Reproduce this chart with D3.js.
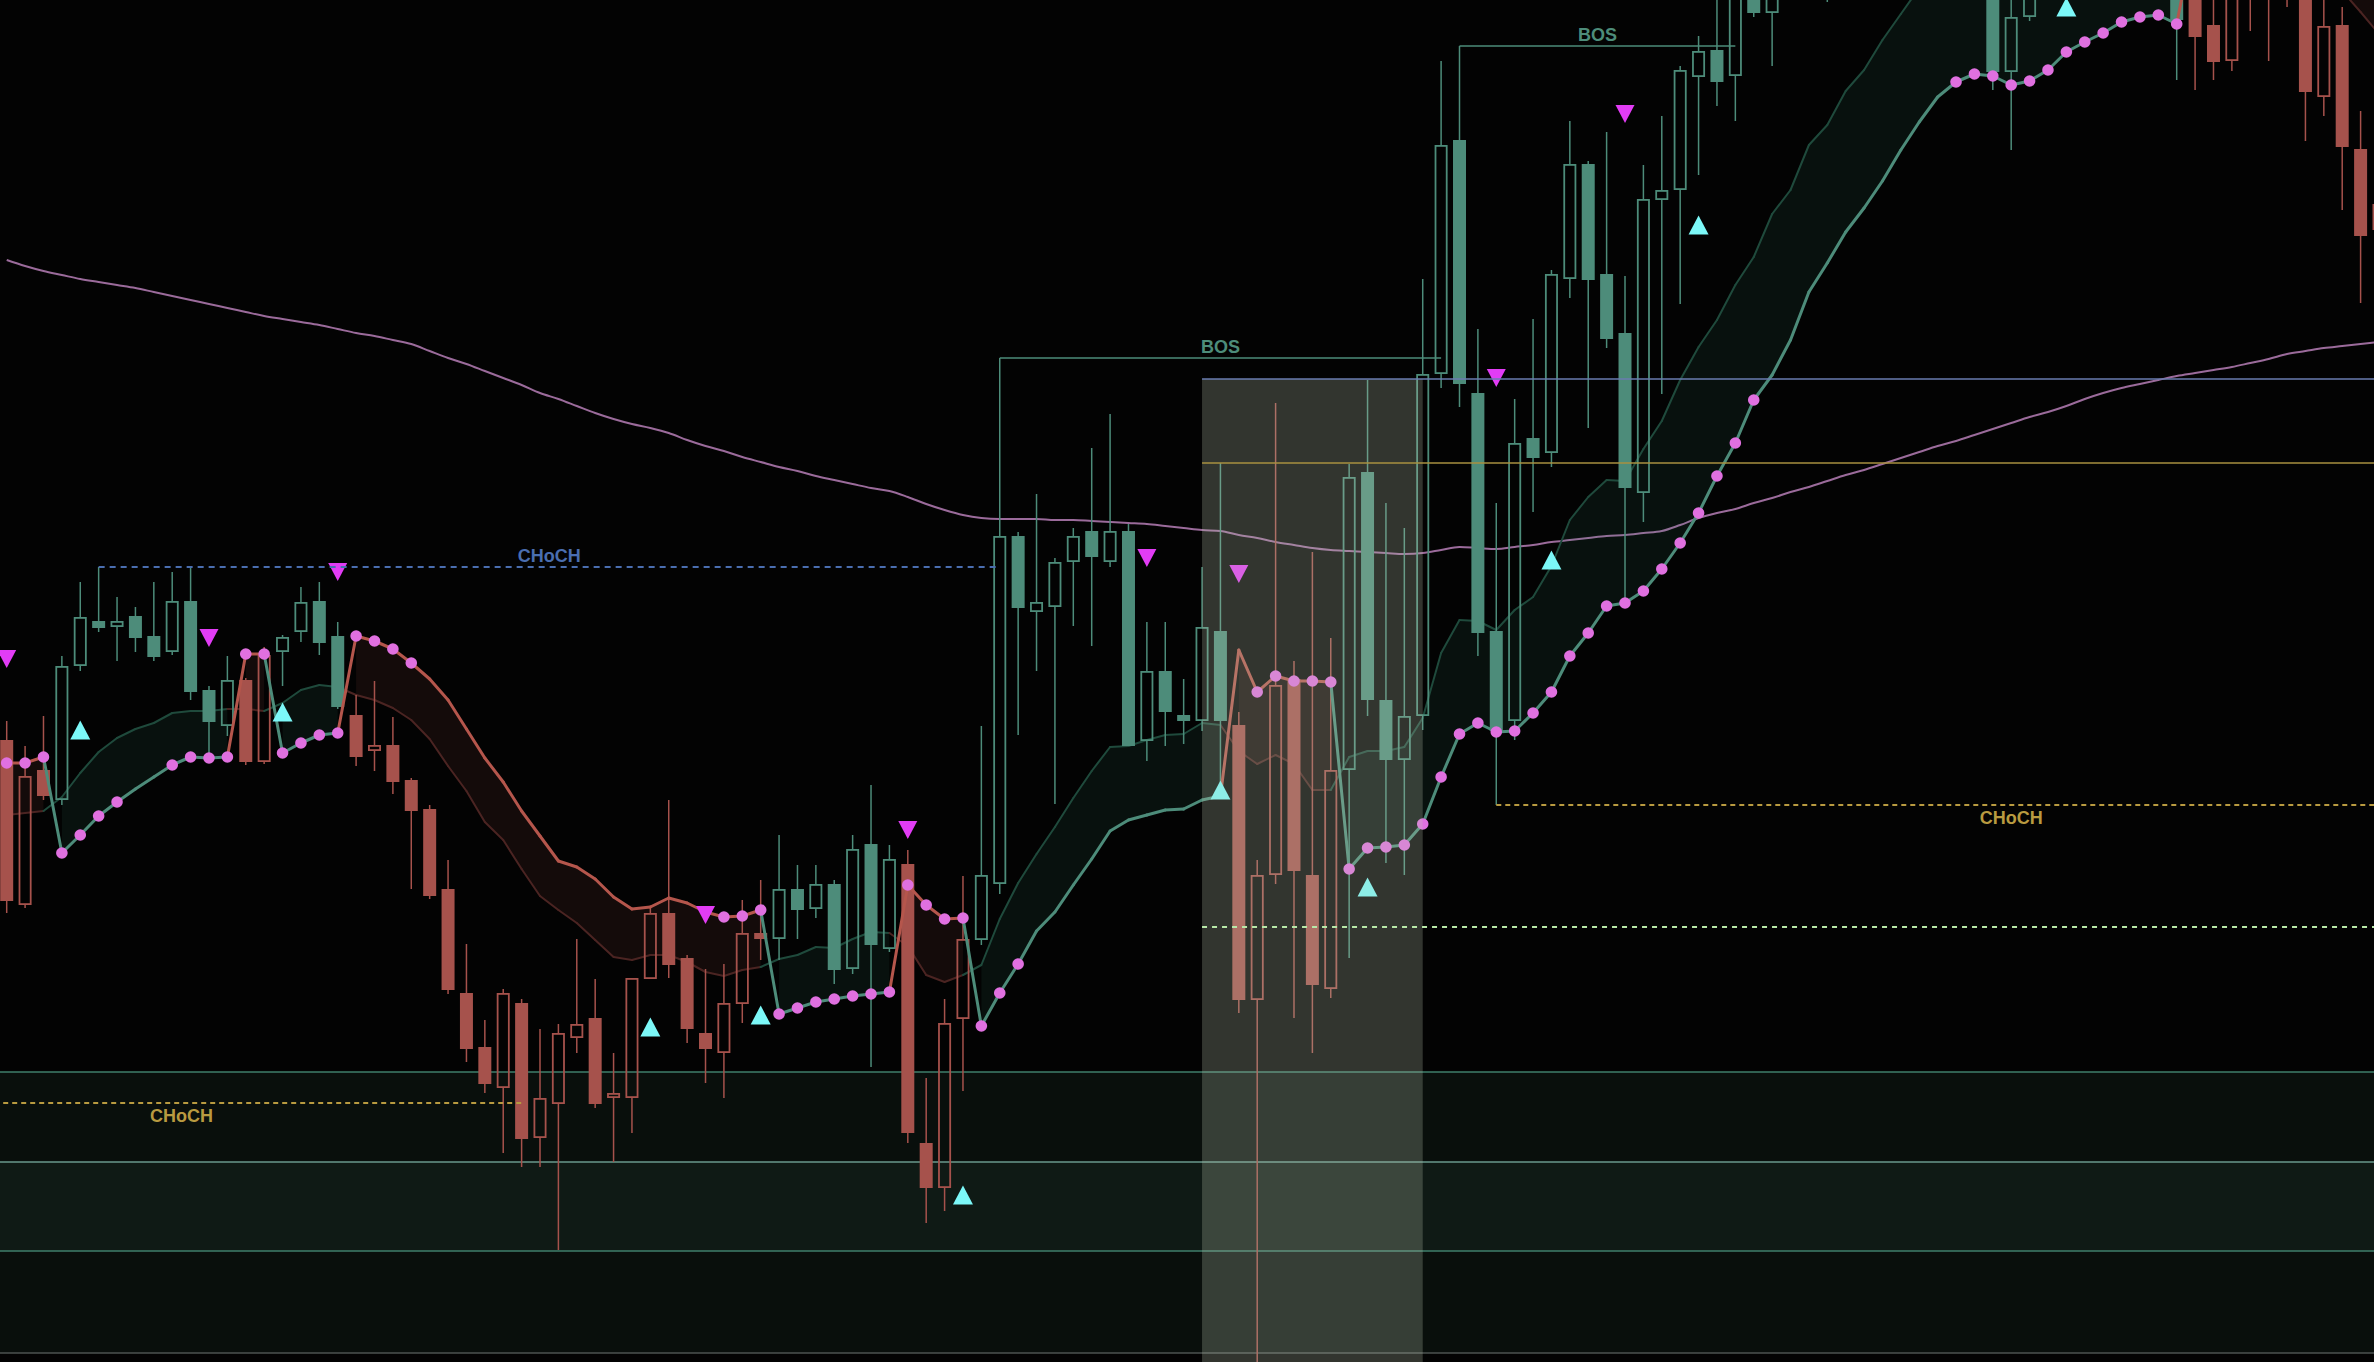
<!DOCTYPE html>
<html><head><meta charset="utf-8">
<script src="https://cdn.jsdelivr.net/npm/d3@7"></script>
<style>html,body{margin:0;padding:0;background:#030303;overflow:hidden}</style>
</head><body>
<svg id="chart" width="2374" height="1362"></svg>
<script>
// ---------- DATA (price units; higher = up) ----------
const open = [
1260,1095,1230,1200,1334,1379,1373,1384,1364,1348,
1399,1310,1274,1320,1238,1348,1368,1399,1364,1285,
1249,1255,1220,1191,1111,1007,953,912,997,862,
896,962,982,902,902,1021,1087,1042,967,947,
996,1067,1061,1111,1091,1116,1031,1156,1051,1136,
857,812,981,1060,1116,1464,1388,1393,1438,1469,
1438,1469,1259,1329,1285,1279,1369,1275,1000,1125,
1321,1125,1011,1230,1528,1300,1240,1284,1626,1860,
1607,1369,1279,1562,1547,1721,1836,1726,1667,1507,
1800,1810,1923,1950,1924,2015,1987,2020,2060,2090,
2070,2110,2140,2120,2150,2130,2090,2060,2020,1928,
1983,2015,2040,2060,2080,2100,2110,2120,2090,2030,
1975,1939,2070,2040,2050,2020,1903,1975,1851,1796];
const high = [
1279,1254,1284,1344,1418,1433,1403,1393,1418,1428,
1433,1314,1344,1322,1353,1365,1413,1418,1378,1305,
1319,1283,1222,1195,1140,1056,980,1011,1001,971,
976,1061,1021,947,1022,1093,1200,1045,1031,1036,
1100,1120,1165,1135,1135,1120,1165,1215,1155,1150,
922,1001,1124,1274,1642,1468,1506,1442,1472,1552,
1586,1476,1378,1378,1321,1433,1537,1288,1140,1597,
1339,1448,1362,1536,1620,1497,1472,1721,1939,1954,
1671,1497,1601,1681,1730,1879,1839,1868,1724,1835,
1884,1934,1964,2005,2020,2025,2030,2070,2110,2120,
2130,2160,2170,2170,2180,2150,2120,2080,2040,2010,
2025,2055,2075,2095,2120,2130,2140,2140,2100,2040,
2010,2020,2080,2060,2070,2030,2010,1993,1889,1810];
const low = [
1087,1092,1200,1195,1329,1368,1339,1348,1339,1345,
1300,1240,1264,1235,1236,1314,1358,1345,1291,1234,
1229,1206,1111,1101,1006,938,907,847,833,833,
750,947,892,838,867,1021,1022,957,917,902,
977,1040,1040,1061,1082,1016,1026,933,1048,857,
777,789,909,1055,1106,1265,1329,1196,1374,1354,
1433,1254,1239,1254,1256,1269,1217,987,630,1116,
982,947,1002,1042,1284,1137,1125,1270,1612,1593,
1344,1195,1260,1488,1533,1702,1572,1652,1398,1478,
1606,1696,1825,1894,1879,1983,1934,2015,2050,1998,
2060,2100,2110,2100,2120,2080,2050,2030,1910,1850,
1979,2005,2015,2050,2070,2090,2100,2080,1920,1910,
1920,1929,1969,1939,1993,1859,1884,1790,1697,1760];
const close = [
1099,1224,1204,1334,1383,1372,1379,1362,1343,1399,
1308,1278,1320,1238,1345,1363,1398,1357,1293,1243,
1255,1218,1189,1104,1010,951,916,1007,861,902,
967,976,896,907,1022,1087,1035,971,951,997,
1067,1061,1111,1090,1116,1030,1151,1055,1141,867,
812,977,1061,1125,1464,1392,1398,1438,1464,1443,
1469,1254,1329,1288,1279,1373,1279,1000,1125,1315,
1129,1015,1230,1523,1300,1240,1284,1626,1855,1616,
1367,1269,1557,1542,1726,1836,1720,1661,1512,1801,
1810,1930,1949,1918,2010,1987,2020,2060,2090,2070,
2110,2140,2120,2150,2130,2090,2060,2040,1928,1983,
2015,2040,2060,2080,2100,2110,2120,2090,1980,1963,
1938,2010,2030,2020,2025,1908,1974,1853,1764,1770];
// trend state per bar (1 = bullish, -1 = bearish)
const trend = [
-1,-1,-1,1,1,1,1,1,1,1,
1,1,1,-1,-1,1,1,1,1,-1,
-1,-1,-1,-1,-1,-1,-1,-1,-1,-1,
-1,-1,-1,-1,-1,-1,-1,-1,-1,-1,
-1,-1,1,1,1,1,1,1,1,-1,
-1,-1,-1,1,1,1,1,1,1,1,
1,1,1,1,1,1,1,-1,-1,-1,
-1,-1,-1,1,1,1,1,1,1,1,
1,1,1,1,1,1,1,1,1,1,
1,1,1,1,1,1,1,1,1,1,
1,1,1,1,1,1,1,1,1,1,
1,1,1,1,1,1,1,1,1,-1,
-1,-1,-1,-1,-1,-1,-1,-1,-1,-1];
// trailing stop line
const stop = [
1237,1237,1243,1147,1165,1184,1198,1211,1223,1235,
1243,1242,1243,1346,1346,1247,1257,1265,1267,1364,
1359,1351,1337,1321,1300,1271,1242,1218,1189,1164,
1139,1133,1121,1103,1091,1093,1102,1097,1088,1083,
1084,1090,986,992,998,1001,1004,1006,1008,1115,
1095,1081,1082,974,1007,1036,1069,1088,1115,1141,
1169,1180,1185,1190,1191,1200,1204,1350,1308,1324,
1319,1319,1318,1131,1152,1153,1155,1176,1223,1266,
1277,1268,1269,1287,1308,1344,1367,1394,1397,1409,
1431,1457,1487,1524,1557,1600,1625,1660,1708,1737,
1768,1792,1819,1850,1878,1903,1918,1926,1924,1915,
1919,1930,1948,1958,1967,1978,1983,1985,1976,2070,
2080,2090,2100,2110,2120,2130,2140,2150,2160,2170];
// stop markers shown (1) or not (0)
const stopDot = [
1,1,1,1,1,1,1,0,0,1,
1,1,1,1,1,1,1,1,1,1,
1,1,1,0,0,0,0,0,0,0,
0,0,0,0,0,0,0,0,0,1,
1,1,1,1,1,1,1,1,1,1,
1,1,1,1,1,1,0,0,0,0,
0,0,0,0,0,0,0,0,1,1,
1,1,1,1,1,1,1,1,1,1,
1,1,1,1,1,1,1,1,1,1,
1,1,1,1,1,1,0,0,0,0,
0,0,0,0,0,0,1,1,1,1,
1,1,1,1,1,1,1,1,1,0,
0,0,0,0,0,0,0,0,0,0];
// band companion line
const band = [
1185,1187,1189,1203,1227,1248,1262,1271,1277,1287,
1289,1289,1291,1291,1289,1297,1310,1315,1313,1305,
1300,1292,1280,1261,1234,1209,1178,1160,1131,1104,
1090,1077,1060,1043,1040,1045,1045,1038,1028,1024,
1030,1033,1041,1045,1053,1052,1061,1068,1067,1054,
1025,1018,1025,1035,1081,1117,1146,1173,1202,1229,
1253,1254,1260,1265,1266,1277,1275,1249,1236,1245,
1236,1210,1210,1243,1249,1249,1253,1282,1347,1380,
1379,1370,1390,1403,1434,1480,1503,1520,1519,1551,
1579,1620,1653,1680,1715,1743,1786,1810,1855,1875,
1909,1930,1960,1986,2012,2035,2055,2070,2085,2095,
2105,2115,2125,2135,2140,2145,2150,2150,2150,2145,
2135,2120,2105,2090,2070,2050,2030,2009,1988,1966];
// slow moving average
const ma = [
1740,1734,1729,1725,1721,1718,1715,1712,1708,1704,
1700,1696,1692,1688,1684,1681,1678,1675,1671,1667,
1664,1660,1656,1649,1642,1636,1629,1622,1615,1607,
1601,1594,1587,1581,1576,1572,1567,1560,1554,1549,
1543,1538,1533,1529,1524,1520,1516,1512,1509,1503,
1496,1490,1485,1482,1481,1481,1481,1480,1480,1479,
1478,1477,1476,1474,1472,1470,1469,1465,1462,1458,
1455,1452,1450,1449,1448,1447,1446,1447,1450,1453,
1452,1451,1453,1455,1458,1460,1462,1464,1465,1467,
1469,1475,1482,1487,1491,1497,1502,1508,1513,1519,
1525,1530,1536,1542,1548,1554,1559,1565,1571,1577,
1583,1588,1594,1601,1607,1612,1616,1620,1624,1627,
1630,1633,1637,1641,1646,1649,1652,1654,1656,1658];
// signals
const sellIdx = [0,11,18,38,49,62,67,81,88];
const sellPrice = [1341,1362,1428,1085,1170,1442,1426,1622,1886];
const buyIdx = [4,15,35,41,52,66,74,84,92,112];
const buyPrice = [1270,1288,973,985,805,1210,1113,1440,1775,1993];
// market structure
const structLabel = ['CHoCH','CHoCH','CHoCH','BOS','BOS'];
const structDir = ['bull','bear','bear','bull','bull'];
const structFrom = [5,-9,81,54,79];
const structTo = [54,28,137,78,94];
const structPrice = [1433,897,1195,1642,1954];
// zones
const zoneTop = [928,838];
const zoneBottom = [749,647];
// range box and levels
const boxFrom = 65, boxTo = 77, boxTop = 1621;
const levelPrice = [1621,1537,1073];
const levelFrom = 65;

// ---------- DRAW ----------
const W = 2374, H = 1362;
const n = open.length;
const svg = d3.select('#chart');
const x = d3.scaleLinear().domain([0,128]).range([6.7,2360.6]);
const y = d3.scaleLinear().domain([638,2000]).range([H,0]);
const C_UP = '#4d8c7a', C_DN = '#a6524c';
const idx = d3.range(n);

svg.append('rect').attr('width',W).attr('height',H).attr('fill','#030303');

// zones
const zoneTopColor = ['#3f7f6b','#6a9a8c'], zoneBotColor = ['#3f7f6b','#4d5350'];
const zg = svg.append('g');
zg.selectAll('rect').data(zoneTop).join('rect')
  .attr('x',0).attr('width',W)
  .attr('y',d=>y(d)).attr('height',(d,k)=>y(zoneBottom[k])-y(d))
  .attr('fill','rgb(90,160,130)').attr('fill-opacity',0.08);
zoneTop.forEach((t,k)=>{
  zg.append('line').attr('x1',0).attr('x2',W).attr('y1',y(t)).attr('y2',y(t))
    .attr('stroke',zoneTopColor[k]).attr('stroke-width',1.5);
  zg.append('line').attr('x1',0).attr('x2',W).attr('y1',y(zoneBottom[k])).attr('y2',y(zoneBottom[k]))
    .attr('stroke',zoneBotColor[k]).attr('stroke-width',1.5);
});

// moving average
svg.append('path').datum(ma)
  .attr('d',d3.line().x((d,i)=>x(i)).y(d=>y(d)).curve(d3.curveMonotoneX))
  .attr('fill','none').attr('stroke','#9b6b9b').attr('stroke-width',2);

// band fills per trend run
const runs = [];
let s = 0;
for (let i=1;i<=n;i++){ if(i===n || trend[i]!==trend[s]){ runs.push([s,i-1,trend[s]]); s=i; } }
const area = d3.area().x(i=>x(i)).y0(i=>y(stop[i])).y1(i=>y(band[i]));
svg.append('g').selectAll('path').data(runs).join('path')
  .attr('d',r=>area(d3.range(r[0],r[1]+1)))
  .attr('fill',r=>r[2]>0?'rgb(60,150,120)':'rgb(165,80,75)')
  .attr('fill-opacity',r=>r[2]>0?0.1:0.11);

// band companion line
svg.append('g').selectAll('line').data(d3.range(1,n)).join('line')
  .attr('x1',i=>x(i-1)).attr('x2',i=>x(i)).attr('y1',i=>y(band[i-1])).attr('y2',i=>y(band[i]))
  .attr('stroke',i=>trend[i]>0?'#1f4a3c':'#4b2422').attr('stroke-width',2).attr('stroke-linecap','round');

// candles
const cg = svg.append('g');
const bw = 13;
const topY = i=>Math.min(y(open[i]),y(close[i]));
const botY = i=>Math.max(y(open[i]),y(close[i]));
const col = i=>trend[i]>0?C_UP:C_DN;
cg.selectAll('.wt').data(idx).join('line').attr('class','wt')
  .attr('x1',i=>x(i)).attr('x2',i=>x(i)).attr('y1',i=>y(high[i])).attr('y2',i=>topY(i))
  .attr('stroke',col).attr('stroke-width',1.5);
cg.selectAll('.wb').data(idx).join('line').attr('class','wb')
  .attr('x1',i=>x(i)).attr('x2',i=>x(i)).attr('y1',i=>botY(i)).attr('y2',i=>y(low[i]))
  .attr('stroke',col).attr('stroke-width',1.5);
const filled = idx.filter(i=>close[i]<=open[i]);
const hollow = idx.filter(i=>close[i]>open[i]);
cg.selectAll('.bf').data(filled).join('rect').attr('class','bf')
  .attr('x',i=>x(i)-bw/2).attr('width',bw)
  .attr('y',i=>topY(i)).attr('height',i=>Math.max(botY(i)-topY(i),1.5))
  .attr('fill',col);
cg.selectAll('.bh').data(hollow).join('rect').attr('class','bh')
  .attr('x',i=>x(i)-bw/2+0.9).attr('width',bw-1.8)
  .attr('y',i=>topY(i)+0.9).attr('height',i=>Math.max(botY(i)-topY(i)-1.8,0.5))
  .attr('fill','none').attr('stroke',col).attr('stroke-width',1.8);

// trailing stop line and markers
svg.append('g').selectAll('line').data(d3.range(1,n)).join('line')
  .attr('x1',i=>x(i-1)).attr('x2',i=>x(i)).attr('y1',i=>y(stop[i-1])).attr('y2',i=>y(stop[i]))
  .attr('stroke',i=>trend[i]>0?'#4d8c7a':'#b5564c').attr('stroke-width',3).attr('stroke-linecap','round');
svg.append('g').selectAll('circle').data(idx.filter(i=>stopDot[i])).join('circle')
  .attr('cx',i=>x(i)).attr('cy',i=>y(stop[i])).attr('r',5.8).attr('fill','#e070e0');

// signals
svg.append('g').selectAll('path').data(sellIdx).join('path')
  .attr('d',(d,k)=>{const cx=x(d), cy=y(sellPrice[k]); return `M${cx-9.5},${cy-9}L${cx+9.5},${cy-9}L${cx},${cy+9}Z`;})
  .attr('fill','#e23cf5');
svg.append('g').selectAll('path').data(buyIdx).join('path')
  .attr('d',(d,k)=>{const cx=x(d), cy=y(buyPrice[k]); return `M${cx-10},${cy+9.5}L${cx+10},${cy+9.5}L${cx},${cy-9.5}Z`;})
  .attr('fill','#7cf8f8');

// range box
svg.append('rect').attr('x',x(boxFrom)).attr('width',x(boxTo)-x(boxFrom))
  .attr('y',y(boxTop)).attr('height',H-y(boxTop))
  .attr('fill','rgb(190,205,180)').attr('fill-opacity',0.25);

// key levels
const levelColor = ['#6a7db0','#a89040','#b8e8a8'];
const levelDash = [null,null,'5,5'];
svg.append('g').selectAll('line').data(levelPrice).join('line')
  .attr('x1',x(levelFrom)).attr('x2',W).attr('y1',d=>y(d)).attr('y2',d=>y(d))
  .attr('stroke',(d,k)=>levelColor[k]).attr('stroke-width',(d,k)=>k===2?2:1.5)
  .attr('stroke-dasharray',(d,k)=>levelDash[k]);

// structure lines & labels
const sColor = k => structLabel[k]==='BOS' ? '#4d8c7a' : (structDir[k]==='bull' ? '#4a6eb0' : '#b89a40');
const sg = svg.append('g');
sg.selectAll('line').data(structPrice).join('line')
  .attr('x1',(d,k)=>x(structFrom[k])).attr('x2',(d,k)=>x(structTo[k]))
  .attr('y1',d=>y(d)).attr('y2',d=>y(d))
  .attr('stroke',(d,k)=>sColor(k)).attr('stroke-width',(d,k)=>structLabel[k]==='BOS'?1.5:2)
  .attr('stroke-dasharray',(d,k)=>structLabel[k]==='BOS'?null:(structDir[k]==='bull'?'6,5':'5,4'));
sg.selectAll('text').data(structPrice).join('text')
  .attr('x',(d,k)=>x((structFrom[k]+structTo[k])/2))
  .attr('y',(d,k)=>structDir[k]==='bull'? y(d)-5 : y(d)+19)
  .attr('text-anchor','middle')
  .attr('font-family','"Liberation Sans", Arial, sans-serif')
  .attr('font-weight','bold').attr('font-size','18px')
  .attr('fill',(d,k)=>sColor(k))
  .text((d,k)=>structLabel[k]);
</script>
</body></html>
